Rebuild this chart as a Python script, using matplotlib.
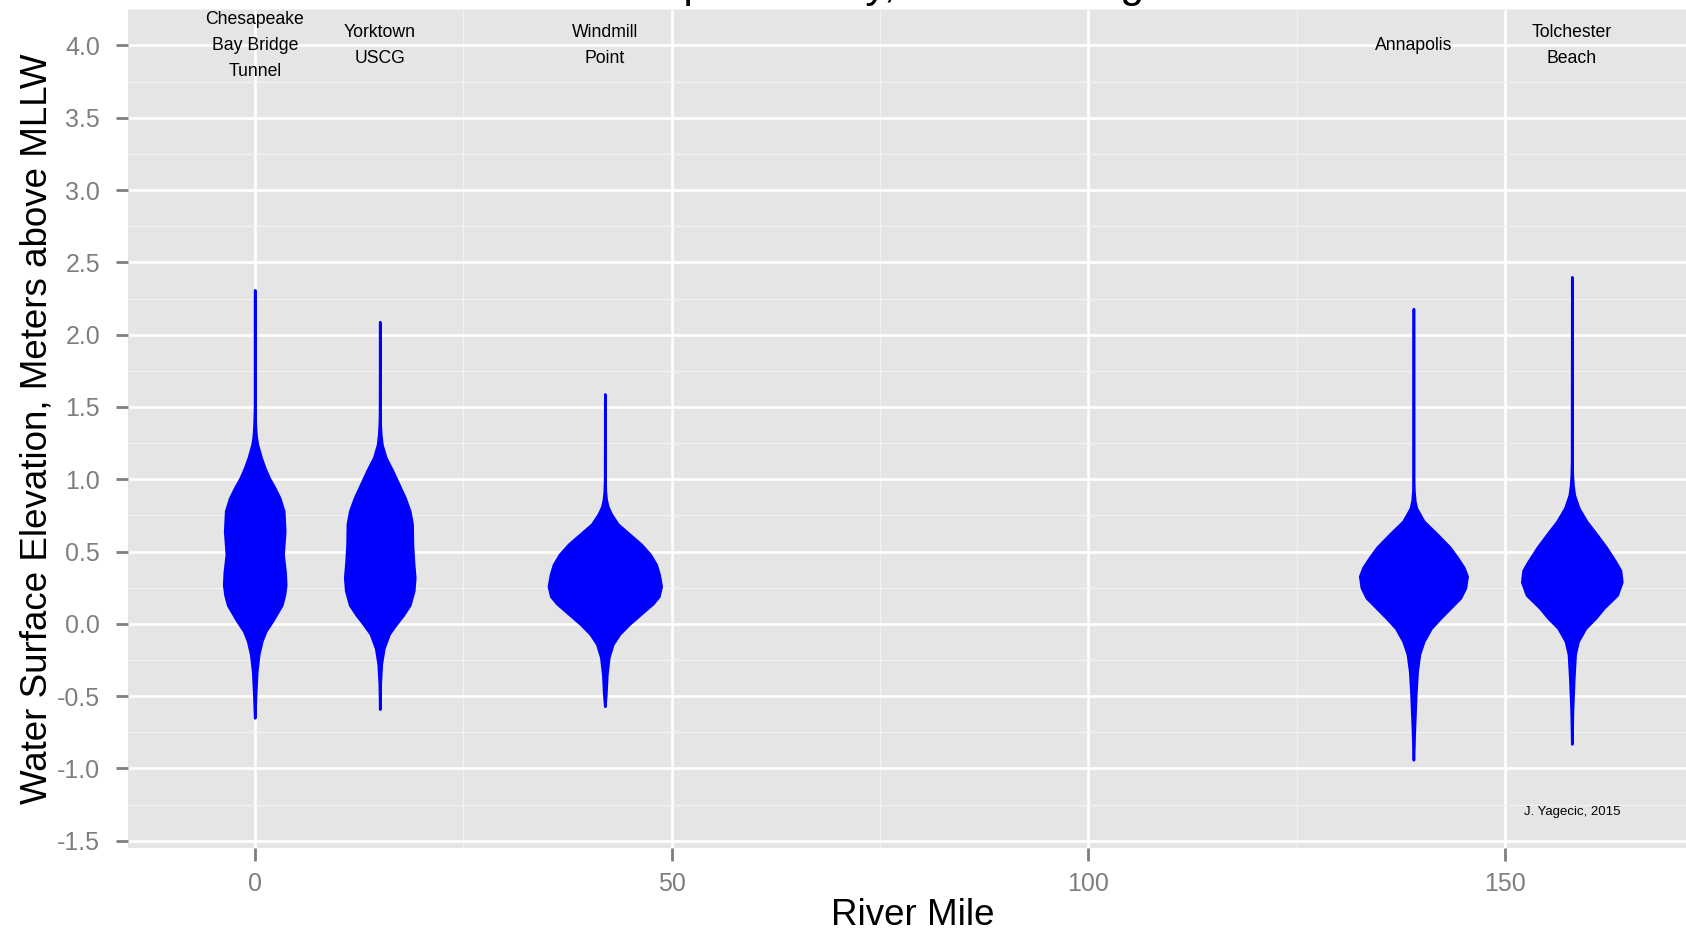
import matplotlib
matplotlib.use('Agg')
import matplotlib.pyplot as plt
from matplotlib.ticker import MultipleLocator, FuncFormatter
import numpy as np

plt.rcParams['font.family'] = ['Liberation Sans', 'DejaVu Sans']

# station positions (river mile) and names
river_mile = [0, 15, 42, 139, 158]
station_names = ['Chesapeake\nBay Bridge\nTunnel', 'Yorktown\nUSCG', 'Windmill\nPoint',
                 'Annapolis', 'Tolchester\nBeach']

# violin outlines: elevation (m above MLLW) and half width (miles)
cbbt_elev = [2.31, 1.5, 1.42, 1.35, 1.29, 1.24, 1.15, 1.08, 1.01, 0.94, 0.87, 0.78, 0.64,
             0.48, 0.36, 0.27, 0.20, 0.13, 0.09, 0.02, -0.05, -0.12, -0.21, -0.33, -0.47, -0.65]
cbbt_width = [0.0, 0.02, 0.05, 0.1, 0.18, 0.32, 0.76, 1.2, 1.72, 2.4, 3.0, 3.48, 3.6,
              3.4, 3.64, 3.72, 3.56, 3.24, 2.84, 2.12, 1.32, 0.84, 0.48, 0.24, 0.12, 0.0]

york_elev = [2.09, 1.45, 1.38, 1.31, 1.24, 1.15, 1.06, 0.96, 0.87, 0.78, 0.69, 0.55, 0.43,
             0.32, 0.23, 0.13, 0.06, -0.005, -0.07, -0.17, -0.28, -0.42, -0.59]
york_width = [0.0, 0.02, 0.05, 0.12, 0.26, 0.72, 1.52, 2.32, 3.04, 3.6, 3.88, 3.92, 4.04,
              4.2, 4.08, 3.6, 2.8, 1.92, 1.12, 0.48, 0.18, 0.05, 0.0]

windmill_elev = [1.59, 1.0, 0.92, 0.86, 0.81, 0.76, 0.69, 0.62, 0.55, 0.48, 0.41, 0.34,
                 0.26, 0.19, 0.14, 0.07, 0.0, -0.07, -0.14, -0.23, -0.35, -0.49, -0.57]
windmill_width = [0.0, 0.02, 0.06, 0.16, 0.36, 0.76, 1.56, 2.96, 4.36, 5.44, 6.16, 6.52,
                  6.76, 6.48, 5.76, 4.36, 2.96, 1.76, 0.96, 0.48, 0.24, 0.12, 0.0]

annap_elev = [2.18, 1.0, 0.92, 0.85, 0.80, 0.71, 0.62, 0.53, 0.46, 0.39, 0.33, 0.25, 0.18,
              0.11, 0.04, -0.03, -0.12, -0.21, -0.33, -0.49, -0.72, -0.94]
annap_width = [0.0, 0.02, 0.06, 0.16, 0.36, 1.24, 2.84, 4.36, 5.24, 6.04, 6.44, 6.24, 5.64,
               4.44, 3.24, 2.12, 1.24, 0.72, 0.44, 0.28, 0.12, 0.0]

tolch_elev = [2.40, 1.12, 1.03, 0.96, 0.89, 0.80, 0.71, 0.62, 0.53, 0.43, 0.37, 0.29, 0.20,
              0.11, 0.04, -0.03, -0.12, -0.21, -0.37, -0.60, -0.83]
tolch_width = [0.0, 0.02, 0.06, 0.14, 0.3, 0.84, 1.76, 2.96, 4.12, 5.24, 5.84, 6.0, 5.44,
               3.84, 2.84, 1.64, 0.76, 0.4, 0.24, 0.08, 0.0]

violins = [(cbbt_elev, cbbt_width), (york_elev, york_width), (windmill_elev, windmill_width),
           (annap_elev, annap_width), (tolch_elev, tolch_width)]

fig = plt.figure(figsize=(16.86, 9.33), dpi=100)
ax = fig.add_axes([128 / 1686, 1 - 848 / 933, 1 - 128 / 1686, (848 - 8.6) / 933])
ax.set_facecolor('#E5E5E5')
for s in ax.spines.values():
    s.set_visible(False)

ax.set_xlim(-15.2, 171.7)
ax.set_ylim(-1.55, 4.255)
ax.xaxis.set_major_locator(MultipleLocator(50))
ax.xaxis.set_minor_locator(MultipleLocator(25))
ax.yaxis.set_major_locator(MultipleLocator(0.5))
ax.yaxis.set_minor_locator(MultipleLocator(0.25))
ax.grid(which='major', color='white', lw=1.9)
ax.grid(which='minor', color='#F2F2F2', lw=0.9)
ax.set_axisbelow(True)
ax.tick_params(which='major', color='#7F7F7F', length=9, width=2.0, labelsize=18,
               labelcolor='#7F7F7F')
ax.tick_params(axis='y', which='major', pad=11)
ax.tick_params(axis='x', which='major', pad=8)
ax.tick_params(which='minor', length=0)
ax.yaxis.set_major_formatter(FuncFormatter(lambda v, p: f'{v:.1f}'))

for rm, (elev, width) in zip(river_mile, violins):
    e = np.array(elev)
    w = np.array(width)
    ax.fill_betweenx(e, rm - w, rm + w, facecolor='#0000FF', edgecolor='#0000FF',
                     lw=1.9, joinstyle='round', capstyle='round', zorder=3)

for rm, name in zip(river_mile, station_names):
    ax.text(rm, 4.0, name, ha='center', va='center', fontsize=12.7, linespacing=1.68,
            color='black', zorder=4)

ax.text(158, -1.3, 'J. Yagecic, 2015', ha='center', va='center', fontsize=9.5, color='black')

ax.set_xlabel('River Mile', fontsize=26.5, va='center')
ax.set_ylabel('Water Surface Elevation, Meters above MLLW', fontsize=26.5, va='center')
ax.xaxis.set_label_coords(0.504, -0.081)
ax.yaxis.set_label_coords(-0.0585, 0.5)

# title sits mostly above the canvas, only descenders show
fig.text(559 / 1686, 1 + 3.5 / 933, 'Chesapeake Bay, NOAA Gauges', ha='left', va='baseline',
         fontsize=31, color='black')

fig.savefig('out.png', dpi=100)
